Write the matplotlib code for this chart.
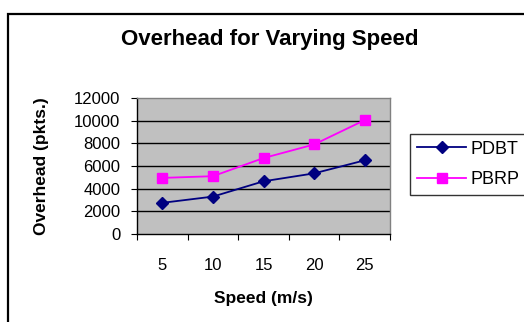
import matplotlib
matplotlib.use("Agg")
import matplotlib.pyplot as plt
from matplotlib.patches import Rectangle
import numpy as np

speeds = ["5", "10", "15", "20", "25"]
pdbt = [2750, 3300, 4650, 5350, 6500]
pbrp = [4950, 5100, 6700, 7900, 10050]
yticks = [0, 2000, 4000, 6000, 8000, 10000, 12000]

plt.rcParams['font.family'] = ['Liberation Sans', 'DejaVu Sans']

fig = plt.figure(figsize=(5.24, 3.22), dpi=100)
fig.patch.set_facecolor('white')

# outer chart border (only left/top visible in the crop)
fig.patches.append(Rectangle((8/524, -0.2), 1.2, 1 - 14/322 + 0.2,
                             transform=fig.transFigure, fill=False,
                             edgecolor='black', linewidth=1.6, zorder=0))

ax = fig.add_axes([137/524, 1 - 234/322, (390 - 137)/524, (234 - 98)/322])
ax.set_facecolor('#C0C0C0')

x = np.arange(len(speeds))
ax.plot(x, pdbt, color='#000080', marker='D', markersize=6, linewidth=1.3,
        label='PDBT', zorder=3)
ax.plot(x, pbrp, color='#FF00FF', marker='s', markersize=7, linewidth=1.3,
        label='PBRP', zorder=3)

ax.set_xlim(-0.5, len(speeds) - 0.5)
ax.set_ylim(0, 12000)
ax.set_yticks(yticks)
ax.set_yticklabels([str(v) for v in yticks], fontsize=12)
ax.set_xticks(np.arange(len(speeds) + 1) - 0.5)
ax.set_xticklabels([])
ax.set_xticks(x, minor=True)
ax.set_xticklabels(speeds, minor=True, fontsize=12)
ax.tick_params(axis='x', which='minor', length=0, pad=17)
ax.tick_params(axis='x', which='major', direction='out', length=4, color='black')
ax.tick_params(axis='y', direction='out', length=4, color='black', pad=8)

for v in yticks[1:-1]:
    ax.axhline(v, color='black', linewidth=1.0, zorder=1)

for s in ['top', 'right']:
    ax.spines[s].set_color('#808080')
    ax.spines[s].set_linewidth(1.0)
for s in ['left', 'bottom']:
    ax.spines[s].set_color('black')
    ax.spines[s].set_linewidth(1.0)

ax.set_xlabel('Speed (m/s)', fontsize=12.5, fontweight='bold', labelpad=13)
ax.set_ylabel('Overhead (pkts.)', fontsize=12.5, fontweight='bold', labelpad=18)

fig.text(270/524, 1 - 40/322, 'Overhead for Varying Speed', fontsize=16,
         fontweight='bold', ha='center', va='center')

leg = ax.legend(loc='upper left', bbox_to_anchor=(410/524, 1 - 133.5/322),
                bbox_transform=fig.transFigure, fontsize=13, frameon=True,
                fancybox=False, edgecolor='black', handlelength=2.7,
                handletextpad=0.25, labelspacing=0.75, borderpad=0.4,
                borderaxespad=0)
leg.get_frame().set_linewidth(1.0)

fig.savefig('out.png', dpi=100)
